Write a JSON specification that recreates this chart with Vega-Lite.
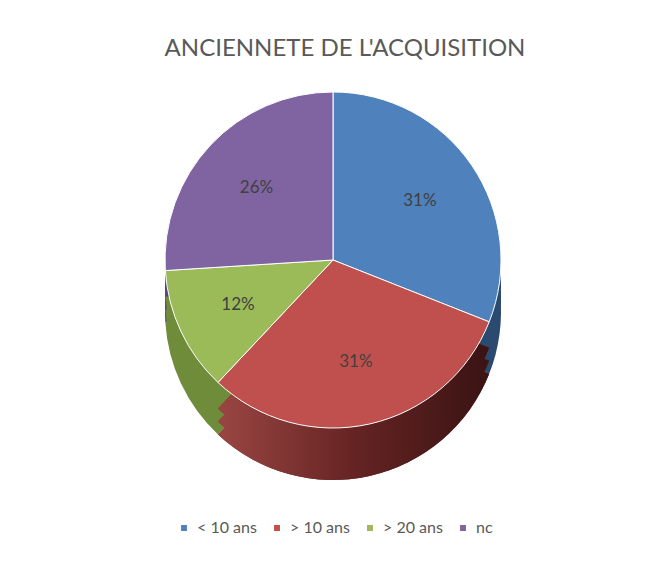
{
  "$schema": "https://vega.github.io/schema/vega-lite/v6.json",
  "width": 654,
  "height": 560,
  "padding": {"left": 6, "top": 6, "right": 0, "bottom": 0},
  "autosize": {"type": "none"},
  "background": "white",
  "config": {
    "view": {"stroke": "#d0d0d0", "strokeWidth": 2},
    "font": "Lato",
    "legend": {
      "orient": "none",
      "legendX": 170,
      "legendY": 514,
      "direction": "horizontal",
      "symbolType": "square",
      "symbolSize": 55,
      "labelFontSize": 16,
      "labelColor": "#595959",
      "labelFont": "Lato",
      "columnPadding": 12,
      "labelOffset": 5
    }
  },
  "title": {
    "text": "ANCIENNETE DE L'ACQUISITION",
    "fontSize": 24,
    "fontWeight": "normal",
    "color": "#595959",
    "font": "Lato",
    "anchor": "middle",
    "frame": "group",
    "offset": -55,
    "dx": 12
  },
  "data": {
    "values": [
      {"i": 1, "cat": "< 10 ans", "pct": 0.31},
      {"i": 2, "cat": "> 10 ans", "pct": 0.31},
      {"i": 3, "cat": "> 20 ans", "pct": 0.12},
      {"i": 4, "cat": "nc", "pct": 0.26}
    ]
  },
  "encoding": {
    "theta": {"field": "pct", "type": "quantitative", "stack": true},
    "order": {"field": "i", "type": "ordinal"}
  },
  "layer": [
    {
      "mark": {"type": "arc", "outerRadius": 168, "yOffset": 26},
      "encoding": {
        "color": {
          "field": "cat", "type": "nominal",
          "scale": {"domain": ["< 10 ans", "> 10 ans", "> 20 ans", "nc"], "range": ["#2b4a70", "#6a2624", "#6f8c3b", "#5a4578"]},
          "legend": null
        }
      }
    },
    {
      "mark": {"type": "arc", "outerRadius": 168, "yOffset": 13},
      "encoding": {
        "color": {
          "field": "cat", "type": "nominal",
          "scale": {"domain": ["< 10 ans", "> 10 ans", "> 20 ans", "nc"], "range": ["#2b4a70", "#6a2624", "#6f8c3b", "#5a4578"]},
          "legend": null
        }
      }
    },
    {
      "mark": {"type": "arc", "outerRadius": 168, "yOffset": 0},
      "encoding": {
        "color": {
          "field": "cat", "type": "nominal",
          "scale": {"domain": ["< 10 ans", "> 10 ans", "> 20 ans", "nc"], "range": ["#2b4a70", "#6a2624", "#6f8c3b", "#5a4578"]},
          "legend": null
        }
      }
    },
    {
      "transform": [
        {"stack": "pct", "sort": [{"field": "i"}], "groupby": [], "as": ["t0", "t1"]},
        {"filter": "datum.i == 2"}
      ],
      "mark": {
        "type": "arc", "outerRadius": 168, "yOffset": 26,
        "fill": {"gradient": "linear", "x1": 0, "y1": 0.5, "x2": 1, "y2": 0.5,
          "stops": [{"offset": 0, "color": "#9a4643"}, {"offset": 0.5, "color": "#652423"}, {"offset": 1, "color": "#3a1313"}]}
      },
      "encoding": {
        "theta": {"field": "t0", "type": "quantitative"},
        "theta2": {"field": "t1"}
      }
    },
    {
      "transform": [
        {"stack": "pct", "sort": [{"field": "i"}], "groupby": [], "as": ["t0", "t1"]},
        {"filter": "datum.i == 2"}
      ],
      "mark": {
        "type": "arc", "outerRadius": 168, "yOffset": 13,
        "fill": {"gradient": "linear", "x1": 0, "y1": 0.5, "x2": 1, "y2": 0.5,
          "stops": [{"offset": 0, "color": "#9a4643"}, {"offset": 0.5, "color": "#652423"}, {"offset": 1, "color": "#3a1313"}]}
      },
      "encoding": {
        "theta": {"field": "t0", "type": "quantitative"},
        "theta2": {"field": "t1"}
      }
    },
    {
      "transform": [
        {"stack": "pct", "sort": [{"field": "i"}], "groupby": [], "as": ["t0", "t1"]},
        {"filter": "datum.i == 2"}
      ],
      "mark": {
        "type": "arc", "outerRadius": 168, "yOffset": 0,
        "fill": {"gradient": "linear", "x1": 0, "y1": 0.5, "x2": 1, "y2": 0.5,
          "stops": [{"offset": 0, "color": "#9a4643"}, {"offset": 0.5, "color": "#652423"}, {"offset": 1, "color": "#3a1313"}]}
      },
      "encoding": {
        "theta": {"field": "t0", "type": "quantitative"},
        "theta2": {"field": "t1"}
      }
    },
    {
      "mark": {"type": "arc", "outerRadius": 168, "yOffset": -26, "stroke": "white", "strokeWidth": 1},
      "encoding": {
        "color": {
          "field": "cat", "type": "nominal",
          "scale": {"domain": ["< 10 ans", "> 10 ans", "> 20 ans", "nc"], "range": ["#4f81bd", "#c0504d", "#9bbb59", "#8064a2"]},
          "legend": {"title": null}
        }
      }
    },
    {
      "mark": {"type": "text", "radius": 105, "yOffset": -26, "fontSize": 17, "color": "#404040", "font": "Lato"},
      "encoding": {
        "text": {"field": "pct", "type": "quantitative", "format": ".0%"}
      }
    }
  ],
  "resolve": {"scale": {"color": "independent"}}
}
